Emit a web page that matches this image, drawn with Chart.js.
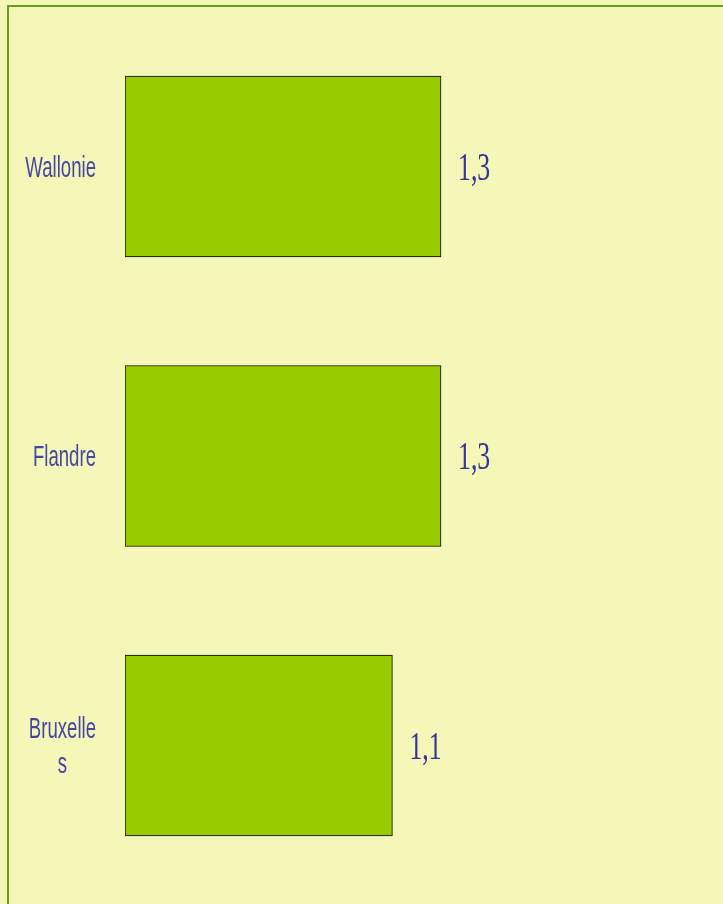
<!DOCTYPE html>
<html>
<head>
<meta charset="utf-8">
<script src="https://cdn.jsdelivr.net/npm/chart.js@4/dist/chart.umd.min.js"></script>
<style>
  html, body { margin: 0; padding: 0; background: #f5f7b8; overflow: hidden; }
  #wrap { width: 723px; height: 904px; position: relative; }
</style>
</head>
<body>
<div id="wrap"><canvas id="chart"></canvas></div>
<script>
// data
const regions = [['Wallonie'], ['Flandre'], ['Bruxelle', 's']];
const values = [1.3, 1.3, 1.1];
const valueLabels = ['1,3', '1,3', '1,1'];

const labelColor = '#4646a4';
const valueColor = '#333399';

// background, frame and the narrow text labels
const decor = {
    id: 'decor',
    beforeDraw(chart) {
        const ctx = chart.ctx;
        ctx.save();
        ctx.fillStyle = '#f5f7b8';
        ctx.fillRect(0, 0, chart.width, chart.height);
        ctx.strokeStyle = '#6e9a1e';
        ctx.lineWidth = 2;
        ctx.strokeRect(8, 6, chart.width + 20, chart.height + 20);
        ctx.restore();
    },
    afterDraw(chart) {
        const ctx = chart.ctx;
        const y = chart.scales.y;
        const meta = chart.getDatasetMeta(0);

        // category labels
        ctx.save();
        ctx.fillStyle = labelColor;
        ctx.font = '30px "Liberation Sans", Arial, sans-serif';
        ctx.textBaseline = 'alphabetic';
        const sx = 0.62, lineH = 35;
        regions.forEach((lines, i) => {
            const cy = y.getPixelForValue(i);
            const widths = lines.map(l => ctx.measureText(l).width * sx);
            const blockW = Math.max(...widths);
            const right = 96;
            const centerX = right - blockW / 2;
            const firstBase = cy + 10 - (lines.length - 1) * lineH / 2;
            lines.forEach((l, k) => {
                ctx.save();
                ctx.translate(centerX, firstBase + k * lineH);
                ctx.scale(sx, 1);
                ctx.textAlign = 'center';
                ctx.fillText(l, 0, 0);
                ctx.restore();
            });
        });
        ctx.restore();

        // value labels
        ctx.save();
        ctx.fillStyle = valueColor;
        ctx.font = '39px "Liberation Serif", "Times New Roman", serif';
        meta.data.forEach((bar, i) => {
            ctx.save();
            ctx.translate(bar.x + 17, bar.y + 13);
            ctx.scale(0.66, 1);
            ctx.textAlign = 'left';
            ctx.fillText(valueLabels[i], 0, 0);
            ctx.restore();
        });
        ctx.restore();
    }
};

new Chart(document.getElementById('chart'), {
    type: 'bar',
    data: {
        labels: regions.map(r => r.join('')),
        datasets: [{
            data: values,
            backgroundColor: '#99cc00',
            borderColor: '#000000',
            borderWidth: 1,
            borderSkipped: false,
            barThickness: 181
        }]
    },
    options: {
        indexAxis: 'y',
        responsive: true,
        maintainAspectRatio: false,
        animation: false,
        layout: {
            padding: { left: 125, right: 14.6, top: 21.75, bottom: 13.75 }
        },
        scales: {
            x: { display: false, min: 0, max: 2.4 },
            y: { display: false }
        },
        plugins: {
            legend: { display: false },
            tooltip: { enabled: false }
        }
    },
    plugins: [decor]
});
</script>
</body>
</html>
